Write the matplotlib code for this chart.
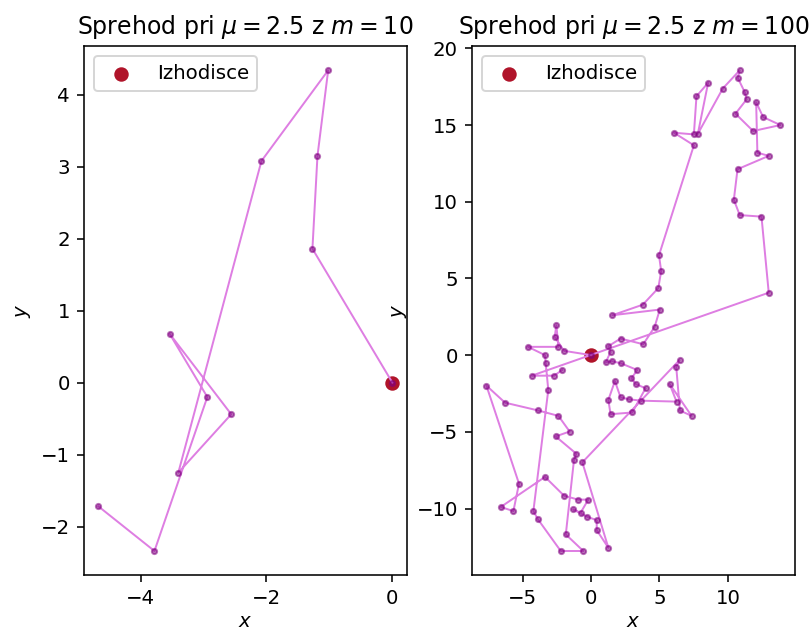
import matplotlib
matplotlib.use("Agg")
import matplotlib.pyplot as plt
import numpy as np

mu = 2.5

# m = 10 (levi graf)
x10 = [0.0, -1.27, -1.19, -1.02, -2.08, -3.40, -2.56, -3.54, -2.94, -3.78, -4.67]
y10 = [0.0, 1.86, 3.15, 4.34, 3.08, -1.25, -0.44, 0.68, -0.20, -2.34, -1.72]

# m = 100 (desni graf), tocke po vrsti sprehoda
x100 = [0.0, -1.97, -2.65, -2.53, -2.38, -4.60, -3.36, -3.31, -3.12, -4.21,
        -3.87, -2.21, -0.56, -1.84, -1.24, -1.07, -2.58, -1.56, -2.38, -3.85,
        -6.28, -7.64, -5.26, -5.67, -6.59, -3.36, -1.97, -0.95, -0.20, -0.76,
        -1.30, -0.27, 0.42, 0.42, 1.27, -0.63, 6.47, 6.23, 6.50, 7.35,
        5.75, 6.25, 3.67, 2.77, 2.16, 1.75, 1.27, 1.43, 3.02, 3.99,
        3.26, 2.96, 3.38, 2.21, 1.51, 1.08, 1.43, 1.27, 2.16, 3.82,
        4.65, 5.03, 1.56, 3.79, 4.92, 5.13, 4.97, 7.52, 6.06, 7.52,
        7.71, 8.56, 7.81, 9.63, 10.87, 10.73, 11.24, 11.37, 10.56, 11.85,
        13.84, 12.58, 12.07, 12.16, 12.99, 10.71, 10.44, 10.87, 12.46, 12.99,
        -4.33, -2.70, -2.10]
y100 = [0.0, 0.28, 1.19, 1.95, 0.54, 0.54, 0.00, -0.50, -2.27, -10.17,
        -10.71, -12.77, -12.77, -11.69, -6.82, -6.43, -5.30, -4.98, -3.96, -3.61,
        -3.10, -1.99, -8.38, -10.17, -9.90, -7.94, -9.16, -9.42, -9.42, -10.28,
        -10.06, -10.54, -10.76, -11.41, -12.56, -6.99, -0.32, -0.76, -3.61, -3.96,
        -1.88, -3.03, -2.97, -2.88, -2.75, -1.69, -2.92, -3.85, -3.74, -2.16,
        -1.88, -1.51, -0.97, -0.54, -0.39, -0.48, 0.21, 0.58, 1.08, 0.71,
        1.84, 2.97, 2.60, 3.29, 4.37, 5.48, 6.51, 13.68, 14.50, 14.39,
        16.88, 17.75, 14.43, 17.38, 18.57, 18.07, 17.14, 16.67, 15.74, 14.61,
        15.00, 15.52, 16.49, 13.20, 12.99, 12.12, 10.13, 9.13, 9.03, 4.07,
        -1.34, -1.34, -0.97]

walks = [(x10, y10, 10), (x100, y100, 100)]

fig, axes = plt.subplots(1, 2, figsize=(5.725, 4.465), dpi=142)
fig.subplots_adjust(left=0.103, right=0.978, bottom=0.093, top=0.927, wspace=0.2)

for ax, (xs, ys, m) in zip(axes, walks):
    ax.scatter(0, 0, color="#b0142a", s=40, label="Izhodisce", zorder=1)
    ax.plot(xs, ys, color="#de7ee2", lw=1.0, zorder=2)
    ax.scatter(xs, ys, color="purple", alpha=0.55, s=7, zorder=3)
    ax.set_title(r"Sprehod pri $\mu=%.1f$ z $m=%d$" % (mu, m))
    ax.set_xlabel("$x$", labelpad=2)
    ax.set_ylabel("$y$")
    ax.legend(loc="upper left")

fig.savefig("out.png")
